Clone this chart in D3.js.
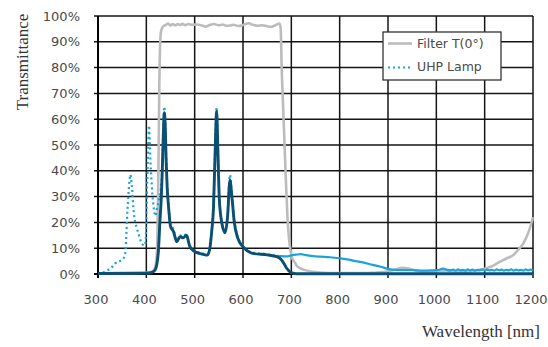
<!DOCTYPE html>
<html>
<head>
<meta charset="utf-8">
<title>Filter transmittance</title>
<style>
	body { margin: 0; background: #fff; }
	.tick text { font: 13px "DejaVu Sans", sans-serif; fill: #4a4a4a; }
	.title { font-family: "Liberation Serif", serif; font-size: 17px; fill: #333; }
	.legend text { font: 12.5px "DejaVu Sans", sans-serif; fill: #4a4a4a; }
</style>
<script src="https://d3js.org/d3.v7.min.js"></script>
</head>
<body>
<svg class="chart"></svg>
<script>
// wavelength [nm] / transmittance [%]
var filterNm = [300, 380, 405, 413, 418, 421, 423, 425, 427, 429, 431, 435, 440, 445, 450, 455, 460, 465, 470, 475, 480, 487, 495, 505, 515, 522, 530, 540, 550, 558, 565, 573, 580, 590, 598, 605, 612, 620, 630, 640, 650, 658, 665, 672, 676, 678, 680, 683, 686, 689, 692, 695, 698, 702, 707, 712, 718, 728, 740, 760, 800, 850, 890, 910, 930, 945, 960, 980, 1000, 1020, 1040, 1060, 1080, 1100, 1115, 1130, 1145, 1160, 1170, 1180, 1187, 1193, 1200];
var filterT = [0.3, 0.4, 0.6, 1, 2.5, 6, 15, 40, 75, 91, 94.5, 96, 96.5, 97.1, 96.3, 96.9, 96.4, 96.9, 96.5, 97, 96.4, 96.9, 96.6, 96.7, 96.3, 95.9, 96.4, 96.9, 96.4, 96.7, 96.2, 96.3, 96.6, 96.1, 96.3, 96.9, 97.2, 96.6, 96.2, 96.4, 96, 95.8, 96.2, 96.9, 97.1, 95, 80, 65, 50, 35, 22, 14, 9.5, 6, 4.5, 3, 2.3, 1.5, 1, 0.6, 0.4, 0.4, 0.8, 1.5, 2.4, 2, 1.2, 0.9, 1, 1.4, 1, 0.9, 1.3, 2, 3, 4.6, 6, 7.5, 9.5, 11.9, 14.5, 17.5, 22];

var lampNm = [300, 310, 320, 328, 335, 342, 349, 354, 357, 359, 361, 363, 365, 367, 369, 371, 373, 376, 380, 384, 388, 392, 396, 398, 399.5, 401, 402.5, 404, 405.5, 407, 408.5, 410.5, 412.5, 414.5, 417, 419, 421, 424, 427, 430, 433, 435, 437, 439, 441, 443, 446, 450, 456, 463, 470, 476, 483, 490, 500, 510, 520, 526, 531, 535, 539, 542, 545.5, 548, 551, 556, 563, 568, 573, 577, 582, 589, 600, 620, 650, 670, 680, 690, 700, 710, 720, 730, 745, 760, 780, 800, 815, 830, 850, 865, 885, 900, 915, 930, 950, 970, 990, 1005, 1014, 1022, 1030, 1035, 1040, 1045, 1050, 1055, 1060, 1065, 1070, 1075, 1080, 1085, 1090, 1095, 1100, 1105, 1110, 1115, 1120, 1125, 1130, 1135, 1140, 1145, 1150, 1155, 1160, 1165, 1170, 1175, 1180, 1185, 1190, 1195, 1200];
var lampT = [0.3, 0.6, 1.5, 2.5, 4, 4.8, 5.4, 6.5, 9, 17, 25, 31, 36, 38.5, 36, 32, 26, 21, 18, 15.5, 13, 11.5, 11, 12, 17, 30, 40, 50, 57.5, 52, 44, 37, 31, 27, 23.5, 22.5, 24.5, 27, 30, 33, 42, 56, 64.8, 60, 46, 35, 27, 19.5, 17.5, 13, 15, 14.5, 15.5, 11, 9, 8.3, 7.8, 7.6, 10, 16.5, 27, 46, 64.5, 50, 30, 20.5, 16.5, 23, 38.4, 31, 21, 14.5, 11, 8.3, 7.7, 7, 6.9, 6.8, 7.2, 7.5, 7.7, 7.3, 6.9, 6.7, 6.5, 6.1, 5.7, 5.1, 4.4, 3.7, 2.8, 2, 1.6, 1.5, 1.5, 1.3, 1.4, 1.6, 2.1, 1.6, 1.4, 1.7, 1.3, 1.8, 1.4, 1.6, 1.3, 1.8, 1.4, 1.7, 1.3, 1.6, 1.4, 1.8, 1.3, 1.7, 1.4, 1.6, 1.3, 1.8, 1.4, 1.7, 1.3, 1.6, 1.4, 1.8, 1.3, 1.7, 1.4, 1.6, 1.3, 1.8, 1.4, 1.7, 1.3, 1.8, 1.5];

// lamp seen through the filter (not in legend)
var outNm = [300, 400, 410, 418, 422, 425, 428, 431, 433, 435, 437, 439, 441, 443, 446, 450, 456, 463, 470, 476, 483, 490, 500, 510, 520, 526, 531, 535, 539, 542, 545.5, 548, 551, 556, 563, 568, 573, 577, 582, 589, 600, 620, 650, 670, 680, 685, 690, 695, 701, 710, 1200];
var outT = [0.2, 0.3, 0.5, 1.5, 4, 9, 20, 30, 40, 53, 62.5, 58, 44, 34, 26, 18.5, 16.5, 12.5, 14.5, 14, 15, 10.6, 8.7, 8, 7.5, 7.3, 9.5, 16, 26, 45, 63, 48, 29, 20, 16, 22, 36.4, 30, 20, 14, 10.6, 8, 7.4, 6.7, 5.4, 4, 2.3, 1.2, 0.4, 0.1, 0.1];

var xTicks = [300, 400, 500, 600, 700, 800, 900, 1000, 1100, 1200];
var yTicks = [0, 10, 20, 30, 40, 50, 60, 70, 80, 90, 100];
var legendNames = ["Filter T(0\u00b0)", "UHP Lamp"];

var W = 548, H = 347;
var margin = {top: 16, right: 15, bottom: 73, left: 98};
var width = W - margin.left - margin.right,
	height = H - margin.top - margin.bottom;

var svg = d3.select(".chart").attr("width", W).attr("height", H);
var main = svg.append("g").attr("transform", "translate(" + margin.left + "," + margin.top + ")");

var x = d3.scaleLinear().domain([300, 1200]).range([0, width]);
var y = d3.scaleLinear().domain([0, 100]).range([height, 0]);

// grid (ticks stick out 4px)
main.selectAll(".hgrid").data(yTicks).enter().append("line")
	.attr("x1", -4).attr("x2", width)
	.attr("y1", function(d) { return y(d); }).attr("y2", function(d) { return y(d); })
	.attr("stroke", "#151515").attr("stroke-width", 1.5);
main.selectAll(".vgrid").data(xTicks).enter().append("line")
	.attr("y1", 0).attr("y2", height + 4)
	.attr("x1", function(d) { return x(d); }).attr("x2", function(d) { return x(d); })
	.attr("stroke", "#151515").attr("stroke-width", 1.5);
main.append("line").attr("x1", 0).attr("x2", 0).attr("y1", 0).attr("y2", height + 4)
	.attr("stroke", "#000").attr("stroke-width", 2);
main.append("line").attr("x1", -4).attr("x2", width).attr("y1", height).attr("y2", height)
	.attr("stroke", "#000").attr("stroke-width", 2);

// axis labels
var xAxis = d3.axisBottom(x).tickValues(xTicks).tickSize(0).tickPadding(21).tickFormat(d3.format("d"));
main.append("g").attr("transform", "translate(0," + height + ")").call(xAxis)
	.call(function(g) { g.select(".domain").remove(); })
	.selectAll("text").attr("dx", -2.5);
var yAxis = d3.axisLeft(y).tickValues(yTicks).tickSize(0).tickPadding(18).tickFormat(function(d) { return d + "%"; });
main.append("g").call(yAxis)
	.call(function(g) { g.select(".domain").remove(); });

svg.append("text").attr("class", "title")
	.attr("x", 540).attr("y", 337).style("text-anchor", "end")
	.text("Wavelength [nm]");
svg.append("text").attr("class", "title")
	.attr("transform", "translate(28,62) rotate(-90)").style("text-anchor", "middle")
	.text("Transmittance");

function pts(nm, t) { return nm.map(function(d, i) { return [d, t[i]]; }); }
var line = d3.line().x(function(d) { return x(d[0]); }).y(function(d) { return y(d[1]); })
	.curve(d3.curveMonotoneX);

var curves = main.append("g");

curves.append("path").datum(pts(filterNm, filterT))
	.attr("d", line).attr("fill", "none")
	.attr("stroke", "#bcbcbe").attr("stroke-width", 2.6);

var lamp = pts(lampNm, lampT);
curves.append("path").datum(lamp.filter(function(d) { return d[0] <= 680; }))
	.attr("d", line).attr("fill", "none")
	.attr("stroke", "#1aa3dc").attr("stroke-width", 2.2).attr("stroke-dasharray", "2,3");
curves.append("path").datum(lamp.filter(function(d) { return d[0] >= 670; }))
	.attr("d", line).attr("fill", "none")
	.attr("stroke", "#1aa3dc").attr("stroke-width", 2.2);

curves.append("path").datum(pts(outNm, outT))
	.attr("d", line).attr("fill", "none")
	.attr("stroke", "#0b4f72").attr("stroke-width", 2.9);

// legend
var legend = svg.append("g").attr("class", "legend");
legend.append("rect").attr("x", 383).attr("y", 32).attr("width", 118).attr("height", 48)
	.attr("fill", "#fff").attr("stroke", "#333").attr("stroke-width", 1.3);
legend.append("line").attr("x1", 388).attr("x2", 412).attr("y1", 43.5).attr("y2", 43.5)
	.attr("stroke", "#bcbcbe").attr("stroke-width", 2.6);
legend.append("line").attr("x1", 388).attr("x2", 412).attr("y1", 67.5).attr("y2", 67.5)
	.attr("stroke", "#1aa3dc").attr("stroke-width", 2.2).attr("stroke-dasharray", "2,3");
legend.selectAll(".lt").data(legendNames).enter().append("text")
	.attr("x", 417).attr("y", function(d, i) { return 48 + i * 23; })
	.text(function(d) { return d; });
</script>
</body>
</html>
